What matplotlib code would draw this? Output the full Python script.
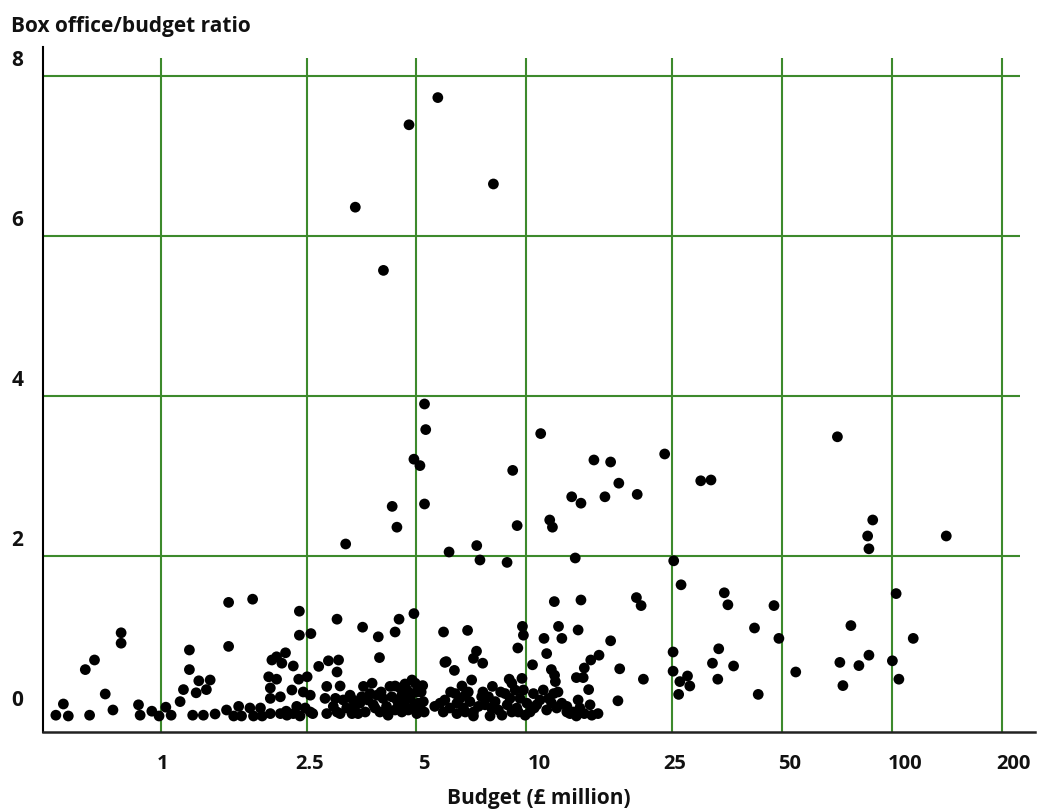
import numpy as np
import matplotlib
matplotlib.use("Agg")
import matplotlib.pyplot as plt
from matplotlib.transforms import ScaledTranslation

# budget in £ million, box office / budget ratio
budget = [
    # high flyers
    5.72, 4.77, 8.12, 3.40, 4.06,
    5.26, 5.30, 4.92, 5.11, 5.26, 4.29, 4.42, 3.20, 6.14, 7.31, 7.46, 8.85,
    9.17, 9.43, 10.94, 11.58, 11.78, 13.3, 14.1, 13.6, 15.3, 17.0, 17.9, 16.4,
    20.1, 23.9, 25.3, 30.0, 32.0, 71.0, 88.7, 85.9, 86.6, 141,
    # small budgets
    0.777, 0.777, 0.657, 0.62, 0.703, 0.54, 0.515, 0.557, 0.637, 0.738, 0.867,
    0.876, 0.943, 0.987, 1.03, 1.065, 1.127, 1.151, 1.195, 1.195, 1.247, 1.268,
    1.22, 1.305, 1.33, 1.362,
    # 1.5 - 3
    1.53, 1.78, 1.53, 2.39, 2.39, 2.57, 3.03, 1.405, 1.51, 1.58, 1.63, 1.66,
    1.75, 1.79, 1.87, 1.89, 1.99, 1.97, 2.01, 2.07, 2.19, 2.14, 2.30, 2.07,
    1.99, 1.99, 2.12, 2.28, 2.38, 2.51, 2.56, 2.12, 2.21, 2.30, 2.35, 2.40,
    2.48, 2.56, 2.70, 2.87, 2.84, 2.81, 2.84, 3.03, 3.06,
    2.20, 2.45, 2.60, 3.00,
    # 3 - 5.5
    3.56, 3.93, 3.96, 4.37, 4.48, 4.92, 3.09,
    3.58, 3.78, 3.73, 3.54, 3.29, 3.15, 3.22, 3.03, 2.96, 3.39, 3.46, 3.62,
    3.81, 3.97, 4.14, 4.23, 4.37, 4.51, 4.28, 4.42, 4.56, 4.71, 4.80, 4.86,
    4.96, 5.01, 5.06, 5.01, 4.75, 4.56, 4.37, 4.18, 5.11, 5.22, 4.91, 4.05,
    3.90, 3.33, 3.09, 3.68, 3.50,
    4.62, 4.85, 5.15, 5.25, 4.45, 4.00, 3.85, 3.35, 5.20, 4.65,
    # 5.5 - 13
    5.93, 6.90, 6.03, 6.35, 7.30, 7.16, 7.59, 7.08, 6.66, 6.38, 8.07, 8.97,
    9.12, 9.47, 9.75, 9.81, 9.72, 10.39, 11.36, 11.17, 11.92, 12.24, 12.5,
    11.7, 11.94, 12.0, 11.87, 5.61, 5.98,
    5.80, 5.98, 5.92, 6.17, 6.45, 6.58, 6.79, 7.00, 7.16, 7.39, 7.70, 7.87,
    8.21, 8.38, 8.57, 8.86, 9.02, 9.12, 9.41, 9.60, 9.81, 10.03, 10.23, 10.45,
    10.67, 10.89, 11.12, 11.36, 11.72, 12.1, 12.5, 12.9, 7.16, 7.95, 6.45,
    9.92, 9.31, 8.74, 7.54, 6.93, 8.03, 6.72,
    8.50, 9.50, 10.5, 11.5, 12.2, 6.20, 6.80, 7.60,
    # 13 - 30
    26.5, 14.1, 20.0, 20.6, 13.85, 17.0, 15.8, 15.0, 14.4, 13.7, 14.3, 18.0,
    20.9, 14.8, 17.8, 25.2, 25.2, 27.6, 26.3, 28.0, 26.1,
    12.9, 13.4, 13.85, 14.0, 14.4, 14.93, 15.1, 15.7, 13.7, 13.16,
    # big budgets
    34.8, 35.6, 47.6, 42.1, 49.1, 33.6, 32.3, 36.9, 33.4, 43.1, 54.6,
    77.3, 72.1, 73.5, 81.3, 86.6, 102.8, 100.4, 104.6, 114.5,
]
ratio = [
    7.73, 7.39, 6.65, 6.36, 5.57,
    3.90, 3.58, 3.21, 3.13, 2.65, 2.62, 2.36, 2.15, 2.05, 2.13, 1.95, 1.92,
    3.07, 2.38, 3.53, 2.45, 2.36, 2.74, 2.66, 1.975, 3.20, 3.175, 2.91, 2.74,
    2.77, 3.275, 1.94, 2.94, 2.95, 3.49, 2.45, 2.25, 2.09, 2.25,
    1.04, 0.91, 0.70, 0.58, 0.275, 0.15, 0.01, 0.0, 0.01, 0.075, 0.14,
    0.01, 0.06, 0.0, 0.11, 0.01, 0.18, 0.33, 0.825, 0.58, 0.29, 0.44,
    0.01, 0.01, 0.33, 0.45,
    1.42, 1.46, 0.87, 1.31, 1.01, 1.03, 1.21, 0.025, 0.075, 0.0, 0.12, 0.0,
    0.10, 0.0, 0.10, 0.0, 0.03, 0.49, 0.70, 0.74, 0.79, 0.66, 0.625, 0.46,
    0.35, 0.22, 0.24, 0.325, 0.46, 0.49, 0.26, 0.03, 0.01, 0.03, 0.12, 0.0,
    0.10, 0.05, 0.62, 0.69, 0.37, 0.22, 0.03, 0.55, 0.70,
    0.06, 0.30, 0.03, 0.22,
    1.11, 0.99, 0.73, 1.05, 1.21, 1.28, 0.375,
    0.37, 0.41, 0.28, 0.24, 0.26, 0.20, 0.10, 0.05, 0.12, 0.12, 0.03, 0.05,
    0.14, 0.05, 0.12, 0.37, 0.375, 0.35, 0.24, 0.20, 0.26, 0.325, 0.22, 0.45,
    0.41, 0.30, 0.16, 0.03, 0.075, 0.05, 0.075, 0.01, 0.12, 0.18, 0.12, 0.22,
    0.26, 0.03, 0.03, 0.20, 0.16,
    0.15, 0.28, 0.30, 0.05, 0.12, 0.30, 0.10, 0.20, 0.38, 0.40,
    1.05, 1.07, 0.68, 0.57, 0.81, 0.72, 0.66, 0.45, 0.375, 0.28, 0.37, 0.46,
    0.41, 0.85, 1.12, 1.01, 0.47, 0.64, 0.78, 0.97, 1.43, 1.12, 0.97,
    0.58, 0.51, 0.43, 0.28, 0.12, 0.67,
    0.16, 0.20, 0.05, 0.10, 0.16, 0.22, 0.26, 0.18, 0.05, 0.12, 0.14, 0.24,
    0.18, 0.075, 0.01, 0.14, 0.22, 0.05, 0.10, 0.22, 0.325, 0.16, 0.05, 0.28,
    0.14, 0.20, 0.325, 0.075, 0.16, 0.10, 0.16, 0.05, 0.0, 0.0, 0.03,
    0.01, 0.325, 0.28, 0.24, 0.30, 0.10, 0.10,
    0.30, 0.05, 0.10, 0.22, 0.30, 0.30, 0.05, 0.30,
    1.64, 1.45, 1.48, 1.38, 1.075, 0.94, 0.76, 0.70, 0.60, 0.48, 0.48, 0.59,
    0.46, 0.33, 0.19, 0.80, 0.56, 0.50, 0.43, 0.375, 0.27,
    0.12, 0.05, 0.20, 0.10, 0.03, 0.14, 0.01, 0.03, 0.0, 0.03,
    1.54, 1.39, 1.38, 1.10, 0.97, 0.84, 0.66, 0.625, 0.46, 0.27, 0.55,
    1.13, 0.67, 0.38, 0.63, 0.76, 1.53, 0.69, 0.46, 0.97,
]

xticks = [1, 2.5, 5, 10, 25, 50, 100, 200]
xticklabels = ['1', '2.5', '5', '10', '25', '50', '100', '200']
yticks = [0, 2, 4, 6, 8]

GREEN = '#3d8a2c'
TXT = '#111111'

plt.rcParams['font.family'] = ['Open Sans', 'DejaVu Sans']

fig = plt.figure(figsize=(10.39, 8.10), dpi=100)
ax = fig.add_axes([0.0411, 0.0963, 0.955, 0.8457])

ax.set_xscale('log')
ax.set_xlim(0.474, 246.6)
ax.set_ylim(-0.2, 8.3625)

# grid
ax.vlines(xticks, -0.2, 8.225, color=GREEN, lw=1.5, zorder=1)
ax.hlines(yticks[1:], 0.474, 224, color=GREEN, lw=1.5, zorder=1)

ax.scatter(budget, ratio, s=60, color='black', edgecolors='none', zorder=3)

for s in ['top', 'right']:
    ax.spines[s].set_visible(False)
ax.spines['left'].set_color('black')
ax.spines['left'].set_linewidth(1.5)
ax.spines['bottom'].set_color('#222222')
ax.spines['bottom'].set_linewidth(1.8)

ax.minorticks_off()
ax.set_xticks(xticks)
ax.set_xticklabels(xticklabels, fontsize=14.5, fontweight='bold', color=TXT)
ax.set_yticks(yticks)
ax.set_yticklabels([str(v) for v in yticks], fontsize=15, fontweight='bold', color=TXT)
ax.tick_params(axis='both', length=0)
ax.tick_params(axis='x', pad=16)
ax.tick_params(axis='y', pad=14)

# labels sit a little off the grid lines in the original
x_shift = [1, 3, 7, 13, 3, 8, 13, 12]
for lab, dx in zip(ax.get_xticklabels(), x_shift):
    lab.set_transform(lab.get_transform() + ScaledTranslation(dx / 100, 0, fig.dpi_scale_trans))
for lab in ax.get_yticklabels():
    lab.set_transform(lab.get_transform() + ScaledTranslation(0, 18 / 100, fig.dpi_scale_trans))

ax.set_xlabel('Budget (£ million)', fontsize=15, fontweight='bold', color=TXT, labelpad=10)
fig.text(0.011, 0.9668, 'Box office/budget ratio', fontsize=15, fontweight='bold',
         color=TXT, ha='left', va='center')

fig.savefig('out.png', dpi=100)
